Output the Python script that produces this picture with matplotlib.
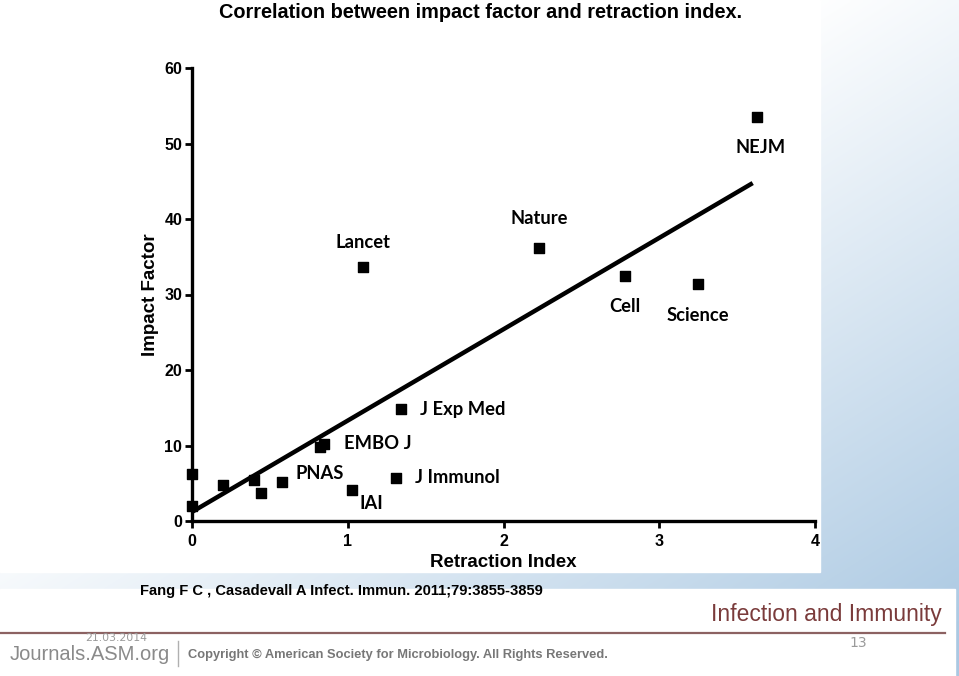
import numpy as np
import matplotlib
matplotlib.use("Agg")
import matplotlib.pyplot as plt
from matplotlib.patches import Rectangle

# ----------------------------------------------------------------------
# Data
# ----------------------------------------------------------------------
retraction_index = [0.00, 0.00, 0.20, 0.40, 0.44, 0.58, 0.82, 0.85,
                    1.03, 1.10, 1.31, 1.34, 2.23, 2.78, 3.25, 3.63]
impact_factor = [6.2, 2.0, 4.8, 5.4, 3.7, 5.2, 9.8, 10.2,
                 4.1, 33.6, 5.7, 14.8, 36.2, 32.4, 31.4, 53.5]
journal = ["", "", "", "", "", "", "PNAS", "EMBO J",
           "IAI", "Lancet", "J Immunol", "J Exp Med", "Nature", "Cell", "Science", "NEJM"]

fit_intercept = 1.2
fit_slope = 12.1
fit_x_end = 3.60

x_ticks = [0, 1, 2, 3, 4]
y_ticks = [0, 10, 20, 30, 40, 50, 60]

# label placement (offset in points, alignment)
label_style = {
    "PNAS": (0, -19, "center"),
    "EMBO J": (14, 0, "left"),
    "IAI": (14, -10, "center"),
    "Lancet": (0, 18, "center"),
    "J Immunol": (14, 0, "left"),
    "J Exp Med": (14, 0, "left"),
    "Nature": (0, 21, "center"),
    "Cell": (0, -22, "center"),
    "Science": (0, -23, "center"),
    "NEJM": (2, -22, "center"),
}

W, H = 959, 676
fig = plt.figure(figsize=(W / 100, H / 100), dpi=100)

# slide background: white fading to light blue towards bottom right
bg = fig.add_axes([0, 0, 1, 1])
u, v = np.meshgrid(np.linspace(0, 1, 240), np.linspace(0, 1, 170))
t = np.clip(1.3 * (0.62 * u + 0.7 * v) - 0.68, 0, 1)
white = np.array([1.0, 1.0, 1.0])
blue = np.array([170, 200, 226]) / 255
img = white[None, None, :] * (1 - t[..., None]) + blue[None, None, :] * t[..., None]
bg.imshow(img, extent=[0, W, H, 0], aspect="auto", interpolation="bilinear")
bg.set_xlim(0, W)
bg.set_ylim(H, 0)
bg.axis("off")

# white chart panel and footer banner
bg.add_patch(Rectangle((0, 0), 820, 572, color="white", zorder=2))
bg.add_patch(Rectangle((0, 589), 955, 87, color="white", zorder=2))
bg.plot([0, 945], [633, 633], color="#8c6262", lw=1.6, zorder=3)
bg.plot([178, 178], [641, 666], color="#b0b0b0", lw=1, zorder=3)

bg.text(481, 12, "Correlation between impact factor and retraction index.",
        ha="center", va="center", fontsize=14.3, fontweight="bold",
        family="Liberation Sans", zorder=4)
bg.text(140, 591, "Fang F C , Casadevall A Infect. Immun. 2011;79:3855-3859",
        ha="left", va="center", fontsize=10.6, fontweight="bold",
        family="Liberation Sans", zorder=4)
bg.text(942, 615, "Infection and Immunity", ha="right", va="center",
        fontsize=16.5, color="#7a3b3b", family="Liberation Sans", zorder=4)
bg.text(10, 655, "Journals.ASM.org", ha="left", va="center", fontsize=14.5,
        color="#8a8a8a", family="Liberation Sans", zorder=4)
bg.text(85, 638, "21.03.2014", ha="left", va="center", fontsize=7.8,
        color="#9a9a9a", zorder=5)
bg.text(188, 655, "Copyright \u00a9 American Society for Microbiology. All Rights Reserved.",
        ha="left", va="center", fontsize=9.3, fontweight="bold", color="#777777",
        family="Liberation Sans", zorder=4)
bg.text(858, 643, "13", ha="center", va="center", fontsize=10, color="#9a9a9a", zorder=4)

# ----------------------------------------------------------------------
# Scatter plot
# ----------------------------------------------------------------------
ax = fig.add_axes([192 / W, 1 - 521 / H, (815 - 192) / W, (521 - 68) / H])
ax.patch.set_alpha(0)

ax.scatter(retraction_index, impact_factor, marker="s", s=52, color="black",
           zorder=3, clip_on=False)
xs = np.array([0, fit_x_end])
ax.plot(xs, fit_intercept + fit_slope * xs, color="black", lw=3.2, zorder=2,
        solid_capstyle="butt")

for xi, yi, name in zip(retraction_index, impact_factor, journal):
    if not name:
        continue
    dx, dy, ha = label_style[name]
    ax.annotate(name, (xi, yi), xytext=(dx, dy), textcoords="offset points",
                ha=ha, va="center", fontsize=13.2, fontweight="bold",
                family=["Lato", "DejaVu Sans"])

ax.set_xlim(0, 4)
ax.set_ylim(0, 60)
ax.set_xticks(x_ticks)
ax.set_yticks(y_ticks)
for side in ["top", "right"]:
    ax.spines[side].set_visible(False)
for side in ["left", "bottom"]:
    ax.spines[side].set_linewidth(2.4)
ax.tick_params(width=2, length=5, direction="out", labelsize=11.5)
ax.tick_params(axis="x", pad=4)
ax.tick_params(axis="y", pad=2)
for lab in ax.get_xticklabels() + ax.get_yticklabels():
    lab.set_fontweight("bold")
    lab.set_family("Liberation Sans")

ax.set_xlabel("Retraction Index", fontsize=13.5, fontweight="bold",
              family="Liberation Sans", labelpad=4)
ax.set_ylabel("Impact Factor", fontsize=13.5, fontweight="bold",
              family="Liberation Sans", labelpad=4)

fig.savefig("out.png", dpi=100)
